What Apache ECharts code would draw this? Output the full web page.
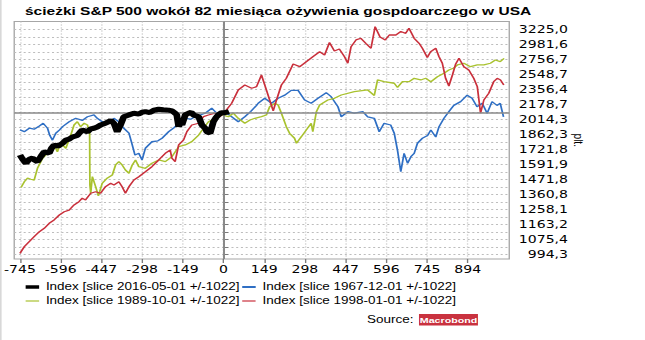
<!DOCTYPE html>
<html>
<head>
<meta charset="utf-8">
<script src="https://cdn.jsdelivr.net/npm/echarts@6/dist/echarts.min.js"></script>
<style>
html,body{margin:0;padding:0;background:#fff;overflow:hidden;}
#wrap{width:645px;height:340px;overflow:hidden;position:relative;}
#c{width:478px;height:340px;transform:scaleX(1.349372);transform-origin:0 0;position:absolute;left:0;top:0;}
</style>
</head>
<body>
<div id="wrap"><div id="c"></div></div>
<script>
const titleText = 'ścieżki S&P 500 wokół 82 miesiąca ożywienia gospdoarczego w USA';
const xTicks = [-745, -596, -447, -298, -149, 0, 149, 298, 447, 596, 745, 894];
const yTicks = [994.3, 1075.4, 1163.2, 1258.1, 1360.8, 1471.8, 1591.9, 1721.8, 1862.3, 2014.3, 2178.7, 2356.4, 2548.7, 2756.7, 2981.6, 3225.0];
const baseValue = 2085;
const names = ['Index [slice 2016-05-01 +/-1022]', 'Index [slice 1967-12-01 +/-1022]', 'Index [slice 1989-10-01 +/-1022]', 'Index [slice 1998-01-01 +/-1022]'];

const slice2016 = [[-745,1671],[-734,1630],[-723,1600],[-711,1635],[-699,1645],[-690,1625],[-681,1613],[-668,1660],[-656,1700],[-638,1686],[-630,1730],[-620,1761],[-605,1750],[-589,1777],[-577,1806],[-565,1815],[-553,1836],[-535,1851],[-526,1880],[-517,1905],[-498,1887],[-486,1915],[-474,1922],[-462,1935],[-450,1955],[-432,1972],[-420,1990],[-413,2002],[-401,1972],[-389,1887],[-377,1955],[-365,2041],[-346,2061],[-328,2079],[-310,2070],[-298,2090],[-286,2096],[-270,2085],[-255,2112],[-237,2123],[-220,2118],[-201,2113],[-188,2105],[-177,2079],[-171,2061],[-164,1938],[-158,1985],[-152,1955],[-140,2061],[-128,2079],[-118,2090],[-110,2061],[-91,2041],[-79,1955],[-67,1922],[-61,1887],[-49,1873],[-43,1930],[-37,1989],[-28,2030],[-19,2061],[-7,2085],[5,2085],[14,2092],[20,2096]];

const slice1967 = [[-745,1905],[-729,1888],[-711,1922],[-693,1912],[-674,1945],[-660,1973],[-644,1922],[-636,1852],[-626,1806],[-614,1872],[-600,1905],[-589,1938],[-565,1989],[-541,2025],[-517,2002],[-498,2041],[-474,2061],[-462,2025],[-444,1989],[-419,1972],[-401,2025],[-383,1989],[-365,1922],[-346,1873],[-334,1761],[-324,1671],[-310,1686],[-298,1628],[-286,1731],[-262,1791],[-240,1800],[-225,1824],[-201,1887],[-180,1930],[-164,1972],[-140,2025],[-120,2015],[-104,2041],[-85,2060],[-67,2079],[-43,2134],[-19,2061],[5,2096],[30,2041],[54,1989],[78,2041],[100,2100],[121,2166],[127,2190],[151,2248],[176,2190],[200,2248],[224,2285],[248,2343],[273,2343],[297,2228],[321,2190],[346,2248],[376,2315],[394,2267],[419,2151],[431,2041],[455,2096],[479,2079],[510,2096],[528,2041],[552,2025],[570,1887],[588,1972],[612,1955],[625,1873],[637,1712],[649,1531],[661,1686],[674,1600],[686,1656],[698,1686],[710,1777],[728,1824],[747,1851],[759,1905],[777,1836],[789,1938],[807,2025],[825,2096],[843,2166],[868,2209],[892,2285],[910,2248],[928,2151],[947,2190],[965,2079],[983,2209],[1001,2166],[1013,2190],[1025,2041]];

const slice1989 = [[-741,1410],[-729,1453],[-717,1480],[-705,1472],[-693,1466],[-681,1559],[-662,1643],[-644,1686],[-632,1731],[-620,1761],[-608,1700],[-596,1777],[-577,1731],[-559,1855],[-547,1955],[-535,1989],[-523,1938],[-510,1973],[-498,1955],[-490,1872],[-489,1429],[-486,1368],[-480,1492],[-468,1416],[-458,1350],[-444,1441],[-426,1480],[-407,1505],[-395,1586],[-383,1614],[-371,1586],[-359,1545],[-346,1519],[-334,1586],[-322,1628],[-310,1572],[-286,1559],[-262,1600],[-237,1628],[-213,1614],[-189,1656],[-164,1745],[-140,1761],[-116,1792],[-91,1855],[-73,1922],[-55,1989],[-31,2025],[-7,2060],[18,2042],[36,2079],[54,2025],[78,1973],[97,2007],[115,2025],[139,2042],[157,2060],[169,2151],[188,2190],[200,2170],[212,2079],[230,1938],[242,1872],[260,1824],[267,1777],[285,1839],[303,1905],[321,1973],[327,1888],[340,2096],[352,2170],[382,2228],[406,2248],[431,2287],[479,2327],[528,2348],[552,2281],[564,2474],[588,2452],[625,2432],[637,2379],[655,2452],[679,2452],[698,2496],[722,2474],[740,2496],[759,2452],[783,2517],[807,2562],[825,2607],[843,2634],[856,2676],[880,2700],[904,2652],[929,2676],[953,2676],[977,2700],[995,2746],[1013,2722],[1027,2771]];

const slice1998 = [[-745,999],[-729,1035],[-711,1062],[-693,1090],[-674,1119],[-656,1139],[-638,1169],[-620,1190],[-601,1221],[-583,1242],[-565,1253],[-547,1287],[-529,1309],[-517,1333],[-505,1321],[-486,1368],[-468,1379],[-450,1368],[-432,1416],[-413,1441],[-401,1429],[-383,1453],[-371,1416],[-359,1368],[-346,1416],[-328,1466],[-310,1492],[-286,1531],[-262,1572],[-237,1628],[-213,1686],[-195,1715],[-189,1643],[-177,1614],[-164,1761],[-146,1808],[-134,1888],[-116,1955],[-91,1973],[-73,2042],[-55,2060],[-31,2079],[-13,2042],[6,2096],[30,2190],[54,2348],[78,2410],[103,2369],[121,2389],[139,2539],[157,2348],[169,2228],[182,2104],[194,2228],[212,2410],[230,2496],[255,2690],[279,2652],[303,2722],[327,2794],[352,2868],[370,2819],[388,3010],[406,2879],[424,2909],[443,2794],[455,2700],[467,2944],[485,3050],[503,3077],[521,2997],[540,2920],[555,3269],[573,3098],[592,3050],[607,3130],[631,3130],[649,3188],[667,3158],[679,3242],[698,3077],[716,2997],[728,2920],[746,2783],[758,2868],[777,2920],[789,2794],[801,2700],[813,2496],[825,2397],[838,2539],[850,2690],[862,2771],[880,2652],[898,2607],[916,2496],[929,2389],[941,2079],[953,2228],[971,2308],[989,2452],[1002,2496],[1014,2474],[1026,2410]];

const yMinor = [];
for (let i = 0; i < yTicks.length - 1; i++) yMinor.push(Math.sqrt(yTicks[i] * yTicks[i + 1]));
const yAllTicks = yTicks.concat(yMinor).concat([yTicks[0] / Math.sqrt(yTicks[1] / yTicks[0])]).sort((a, b) => a - b);

const colors = ['#000000', '#2f6fc4', '#a9c22f', '#c9303c'];
const iconHeights = [3.5, 2, 1.2, 1.2];
const legendPos = [[19, 282], [179.5, 282], [19, 296], [179.5, 296]];
const axisFont = 'DejaVu Sans';
const textFont = 'Liberation Sans, Arial, sans-serif';

const legends = names.map((n, i) => ({
  data: [{name: n, icon: 'rect'}], left: legendPos[i][0], top: legendPos[i][1],
  itemWidth: 10, itemHeight: iconHeights[i], padding: 0, selectedMode: false,
  itemStyle: {color: colors[i], borderWidth: 0},
  textStyle: {fontFamily: textFont, fontSize: 10, color: '#000'}
}));

const chart = echarts.init(document.getElementById('c'), null, {renderer: 'svg'});
chart.setOption({
  animation: false,
  backgroundColor: '#ffffff',
  title: {
    text: titleText, left: 18.5, top: 5.5, padding: 0,
    textStyle: {fontFamily: textFont, fontWeight: 'bold', fontSize: 11.5, color: '#000'}
  },
  grid: {left: 8.7, right: 100.6, top: 21.5, bottom: 81, show: true, borderColor: '#a6a6a6', borderWidth: 1, backgroundColor: 'transparent'},
  legend: legends,
  xAxis: {
    type: 'value', min: -766, max: 1046,
    axisLine: {show: false},
    axisTick: {show: true, customValues: xTicks, length: 4, lineStyle: {color: '#7a7a7a'}},
    axisLabel: {customValues: xTicks, margin: 5.5, fontFamily: axisFont, fontSize: 10.4, color: '#000'},
    splitLine: {show: true, lineStyle: {color: '#bdbdbd', type: [1, 2], width: 1}}
  },
  yAxis: {
    type: 'log', min: 970, max: 3359, position: 'right',
    name: 'plt.', nameLocation: 'middle', nameRotate: -90, nameGap: 46, nameMoveOverlap: false,
    nameTextStyle: {fontFamily: textFont, fontSize: 10, color: '#000'},
    axisLine: {show: false},
    axisTick: {show: true, customValues: yAllTicks, length: 3.5, lineStyle: {color: '#7a7a7a'}},
    axisLabel: {customValues: yTicks, margin: 43.5, align: 'right', fontFamily: axisFont, fontSize: 10.4, color: '#000',
      formatter: v => Number(v).toFixed(1).replace('.', ',')},
    splitLine: {show: true, lineStyle: {color: '#bdbdbd', type: [1.5, 2], width: 1}}
  },
  series: [
    {name: names[1], type: 'line', data: slice1967, symbol: 'none', color: colors[1], lineStyle: {width: 1.3, color: colors[1]}, z: 2},
    {name: names[2], type: 'line', data: slice1989, symbol: 'none', color: colors[2], lineStyle: {width: 1.3, color: colors[2]}, z: 3},
    {name: names[3], type: 'line', data: slice1998, symbol: 'none', color: colors[3], lineStyle: {width: 1.3, color: colors[3]}, z: 4},
    {name: names[0], type: 'line', data: slice2016, symbol: 'none', color: colors[0], lineStyle: {width: 5, color: colors[0]}, z: 5,
     markLine: {silent: true, symbol: 'none', label: {show: false}, animation: false,
       lineStyle: {color: '#8a8a8a', width: 1.5, type: 'solid'},
       data: [{yAxis: baseValue}, {xAxis: 0}]}}
  ],
  graphic: [
    {type: 'rect', left: 0, top: 0, shape: {width: 1.2, height: 340}, style: {fill: '#d8d8d8'}},
    {type: 'text', left: 272, top: 314.5, style: {text: 'Source:', fontFamily: textFont, fontSize: 10, fill: '#000'}},
    {type: 'rect', left: 310.5, top: 314, shape: {width: 43.7, height: 11.5}, style: {fill: '#c9323f'}},
    {type: 'text', x: 332.4, y: 320, style: {text: 'Macrobond', fontFamily: textFont, fontWeight: 'bold', fontSize: 7.9, fill: '#fff', align: 'center', verticalAlign: 'middle'}}
  ]
});
</script>
</body>
</html>
